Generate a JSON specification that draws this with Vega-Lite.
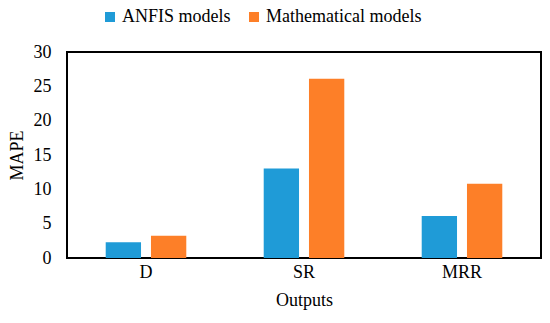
{
  "$schema": "https://vega.github.io/schema/vega-lite/v6.json",
  "width": 474,
  "height": 206,
  "autosize": "none",
  "padding": {"left": 67, "top": 52, "right": 9, "bottom": 65},
  "background": "white",
  "config": {
    "font": "Liberation Serif",
    "view": {"stroke": "black", "strokeWidth": 2},
    "axis": {"grid": false, "domain": false, "ticks": false, "labelFont": "Liberation Serif", "titleFont": "Liberation Serif", "labelFontSize": 18, "titleFontSize": 18, "titleFontWeight": "normal", "labelColor": "black", "titleColor": "black"},
    "legend": {"labelFont": "Liberation Serif"}
  },
  "data": {
    "values": [
      {"output": "D", "model": "ANFIS models", "mape": 2.3},
      {"output": "D", "model": "Mathematical models", "mape": 3.25},
      {"output": "SR", "model": "ANFIS models", "mape": 13.05},
      {"output": "SR", "model": "Mathematical models", "mape": 26.1},
      {"output": "MRR", "model": "ANFIS models", "mape": 6.1},
      {"output": "MRR", "model": "Mathematical models", "mape": 10.8}
    ]
  },
  "mark": {"type": "bar"},
  "encoding": {
    "x": {
      "field": "output", "type": "nominal", "sort": ["D", "SR", "MRR"],
      "scale": {"paddingInner": 0.49, "paddingOuter": 0.245},
      "axis": {"title": "Outputs", "labelAngle": 0, "labelPadding": 5, "titlePadding": 10}
    },
    "xOffset": {
      "field": "model", "type": "nominal",
      "scale": {"paddingInner": 0.22, "paddingOuter": 0}
    },
    "y": {
      "field": "mape", "type": "quantitative",
      "scale": {"domain": [0, 30]},
      "axis": {"title": "MAPE", "values": [0, 5, 10, 15, 20, 25, 30], "labelPadding": 16, "titlePadding": 7}
    },
    "color": {
      "field": "model", "type": "nominal",
      "scale": {"domain": ["ANFIS models", "Mathematical models"], "range": ["#1f9bd7", "#fd7f28"]},
      "legend": {
        "title": null, "orient": "none", "direction": "horizontal",
        "legendX": 34, "legendY": -44,
        "symbolType": "square", "symbolSize": 100, "symbolStrokeWidth": 0,
        "labelFontSize": 18, "labelColor": "black", "columnPadding": 14, "labelOffset": 3
      }
    }
  }
}
